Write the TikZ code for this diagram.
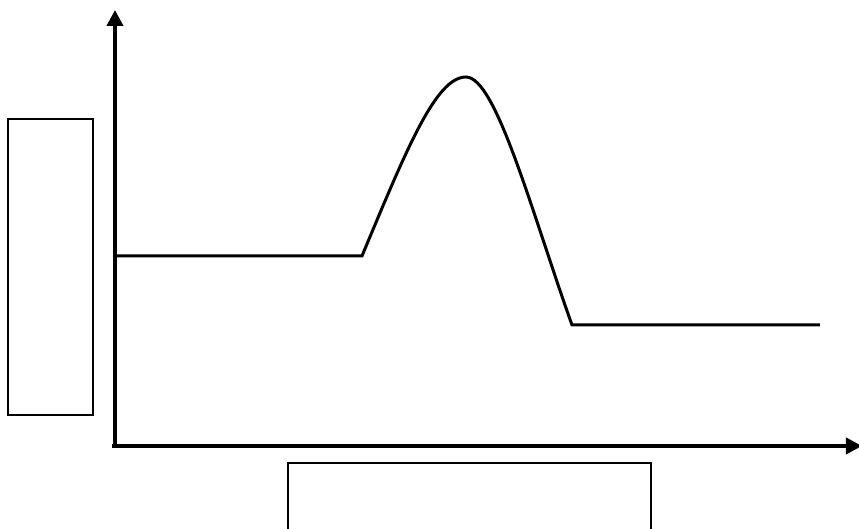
\documentclass[tikz,border=0pt]{standalone}
\usepackage{tikz}
\usetikzlibrary{arrows.meta,positioning}

\begin{document}
\begin{tikzpicture}
\tikzset{axis/.style={-{Triangle[length=1.6mm,width=1.6mm]},line width=1.1pt}}
\tikzset{box/.style={draw,line width=0.75pt,inner sep=0pt}}
\tikzset{level/.style={line width=0.85pt}}
% frame
\useasboundingbox (0,0) rectangle (8.59,5.29);
\clip (0,0) rectangle (8.59,5.29);
% axes
\coordinate (O) at (1.15,0.83);
\coordinate (ytop) at (1.15,5.19);
\coordinate (xstart) at (1.12,0.83);
\coordinate (xend) at (8.62,0.83);
\draw[axis] (O) -- (ytop);
\draw[axis] (xstart) -- (xend);
% label boxes
\node[box,minimum width=0.85cm,minimum height=2.96cm] (ylabel) at (0.505,2.62) {};
\node[box,minimum width=3.63cm,minimum height=0.9cm] (xlabel) at (4.695,0.21) {};
% profile
\coordinate (start) at (1.15,2.73);
\coordinate (rise) at (3.62,2.73);
\coordinate (peak) at (4.66,4.52);
\coordinate (drop) at (5.72,2.04);
\coordinate (finish) at (8.20,2.04);
\draw[level] (start) -- (rise)
  .. controls (4.07,3.81) and (4.36,4.52) .. (peak)
  .. controls (4.96,4.52) and (5.32,3.16) .. (drop) -- (finish);
\end{tikzpicture}
\end{document}
